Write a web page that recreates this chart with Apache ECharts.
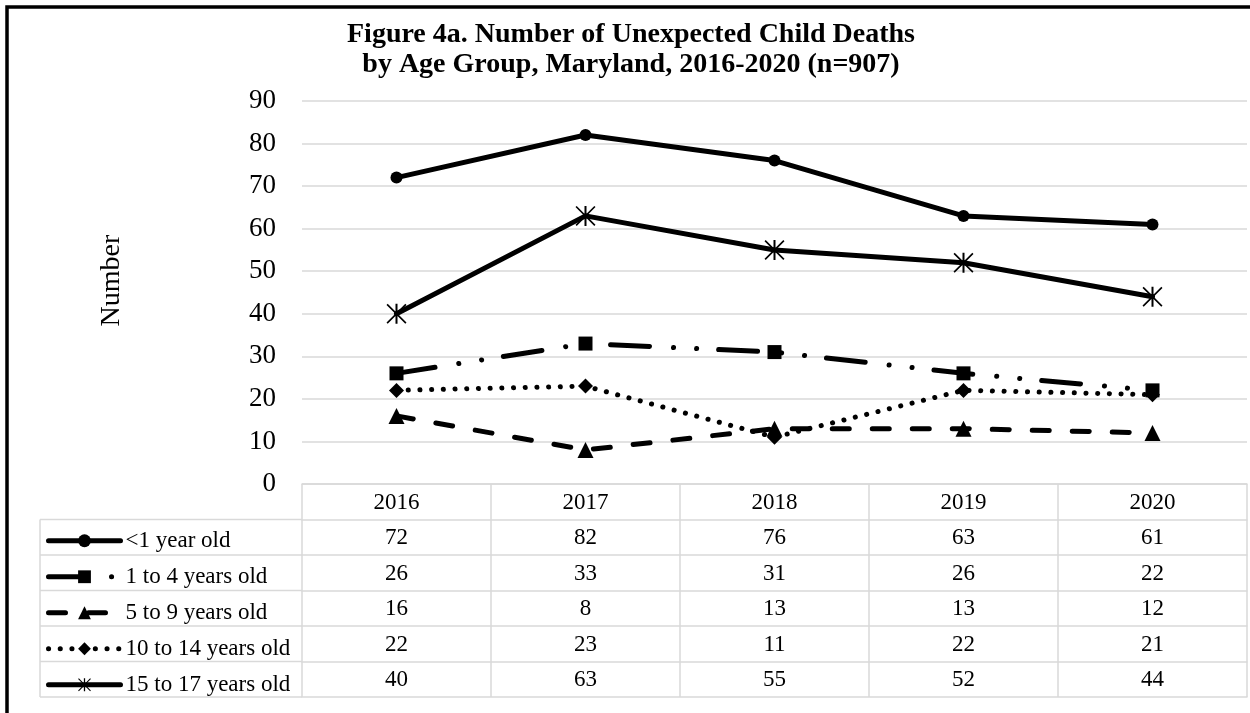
<!DOCTYPE html>
<html>
<head>
<meta charset="utf-8">
<script src="https://cdn.jsdelivr.net/npm/echarts@6/dist/echarts.min.js"></script>
<style>
  html, body { margin: 0; padding: 0; background: #fff; }
  #chart { width: 1250px; height: 713px; }
</style>
</head>
<body>
<div id="chart"></div>
<script>
// data
var years = ['2016', '2017', '2018', '2019', '2020'];
var under1 = [72, 82, 76, 63, 61];
var age1to4 = [26, 33, 31, 26, 22];
var age5to9 = [16, 8, 13, 13, 12];
var age10to14 = [22, 23, 11, 22, 21];
var age15to17 = [40, 63, 55, 52, 44];
var groupNames = ['<1 year old', '1 to 4 years old', '5 to 9 years old', '10 to 14 years old', '15 to 17 years old'];
var yMin = 0, yMax = 90, yStep = 10;

var font = "'Liberation Serif', 'Times New Roman', serif";
var gridColor = '#d9d9d9';
var rowH = 35.5;
var gridLeft = 302, gridRight = 1247, gridTop = 101, gridBottom = 484;
var legendColLeft = 40;

// asterisk marker (vertical bar + X)
var starPath = 'path://M9,0 L11,0 L11,20 L9,20 Z M0,1.2 L1.2,0 L20,18.8 L18.8,20 Z M1.2,20 L0,18.8 L18.8,0 L20,1.2 Z';

var myChart = echarts.init(document.getElementById('chart'));

// one category axis per table row, stacked below the plot
function tableAxis(labels, k, showLabels) {
  return {
    type: 'category',
    data: labels,
    gridIndex: 0,
    position: 'bottom',
    offset: k * rowH,
    boundaryGap: true,
    axisLine: { show: true, lineStyle: { color: gridColor, width: 1.5 } },
    axisTick: { show: showLabels, interval: 0, length: rowH, lineStyle: { color: gridColor, width: 1.5 } },
    axisLabel: {
      show: showLabels, interval: 0, margin: 1, lineHeight: rowH,
      fontSize: 23, color: '#000', fontFamily: font
    },
    splitLine: { show: false }
  };
}

var rows = [under1, age1to4, age5to9, age10to14, age15to17];
var xAxes = [tableAxis(years, 0, true)];
rows.forEach(function (r, i) {
  xAxes.push(tableAxis(r.map(String), i + 1, true));
});
xAxes.push(tableAxis(years, rows.length + 1, false));

// left column borders of the table (decoration)
var tableGraphics = [];
var tableTop = gridBottom + rowH;
var tableBottom = gridBottom + rowH * (rows.length + 1);
tableGraphics.push({
  type: 'line', silent: true,
  shape: { x1: legendColLeft, y1: tableTop, x2: legendColLeft, y2: tableBottom },
  style: { stroke: gridColor, lineWidth: 1.5 }
});
for (var k = 0; k <= rows.length; k++) {
  tableGraphics.push({
    type: 'line', silent: true,
    shape: { x1: legendColLeft, y1: tableTop + k * rowH, x2: gridLeft, y2: tableTop + k * rowH },
    style: { stroke: gridColor, lineWidth: 1.5 }
  });
}
// frame (top and left edges visible)
tableGraphics.push({
  type: 'rect', silent: true,
  shape: { x: 7, y: 7, width: 1400, height: 1000 },
  style: { fill: 'none', stroke: '#000', lineWidth: 3.5 }
});

function lineSeries(name, values, symbol, size, dash) {
  return {
    name: name,
    type: 'line',
    data: values,
    symbol: symbol,
    symbolSize: size,
    showSymbol: true,
    itemStyle: { color: '#000' },
    lineStyle: { color: '#000', width: 5, type: dash, cap: 'round' },
    emphasis: { disabled: true }
  };
}

myChart.setOption({
  animation: false,
  backgroundColor: '#fff',
  title: {
    text: 'Figure 4a. Number of Unexpected Child Deaths\nby Age Group, Maryland, 2016-2020 (n=907)',
    left: 631,
    top: 20,
    padding: 0,
    textAlign: 'center',
    textStyle: {
      fontFamily: font, fontSize: 28, fontWeight: 'bold', color: '#000', lineHeight: 30
    }
  },
  grid: {
    left: gridLeft, right: 1250 - gridRight, top: gridTop, bottom: 713 - gridBottom,
    containLabel: false
  },
  legend: {
    orient: 'vertical',
    left: 46,
    top: tableTop + rowH / 2 - 8,
    padding: 0,
    itemWidth: 72,
    itemHeight: 16,
    itemGap: 13,
    selectedMode: false,
    data: groupNames,
    lineStyle: { width: 5, cap: 'round' },
    textStyle: { fontFamily: font, fontSize: 23, color: '#000' }
  },
  xAxis: xAxes,
  yAxis: {
    type: 'value',
    min: yMin, max: yMax, interval: yStep,
    name: 'Number',
    nameLocation: 'middle',
    nameRotate: 90,
    nameGap: 176,
    nameTextStyle: { fontFamily: font, fontSize: 28, color: '#000', padding: [0, 0, 0, 24] },
    axisLine: { show: false },
    axisTick: { show: false },
    axisLabel: { fontFamily: font, fontSize: 27, color: '#000', margin: 26 },
    splitLine: { lineStyle: { color: gridColor, width: 1.5 } }
  },
  graphic: tableGraphics,
  series: [
    lineSeries(groupNames[0], under1, 'circle', 12, 'solid'),
    lineSeries(groupNames[1], age1to4, 'rect', 14, [39, 24, 0.1, 23, 0.1, 22]),
    lineSeries(groupNames[2], age5to9, 'triangle', 16, [17, 23]),
    lineSeries(groupNames[3], age10to14, 'diamond', 15, [0.1, 11.6]),
    lineSeries(groupNames[4], age15to17, starPath, 20, 'solid')
  ]
});

window.addEventListener('resize', function () {
  myChart.resize();
});
</script>
</body>
</html>
